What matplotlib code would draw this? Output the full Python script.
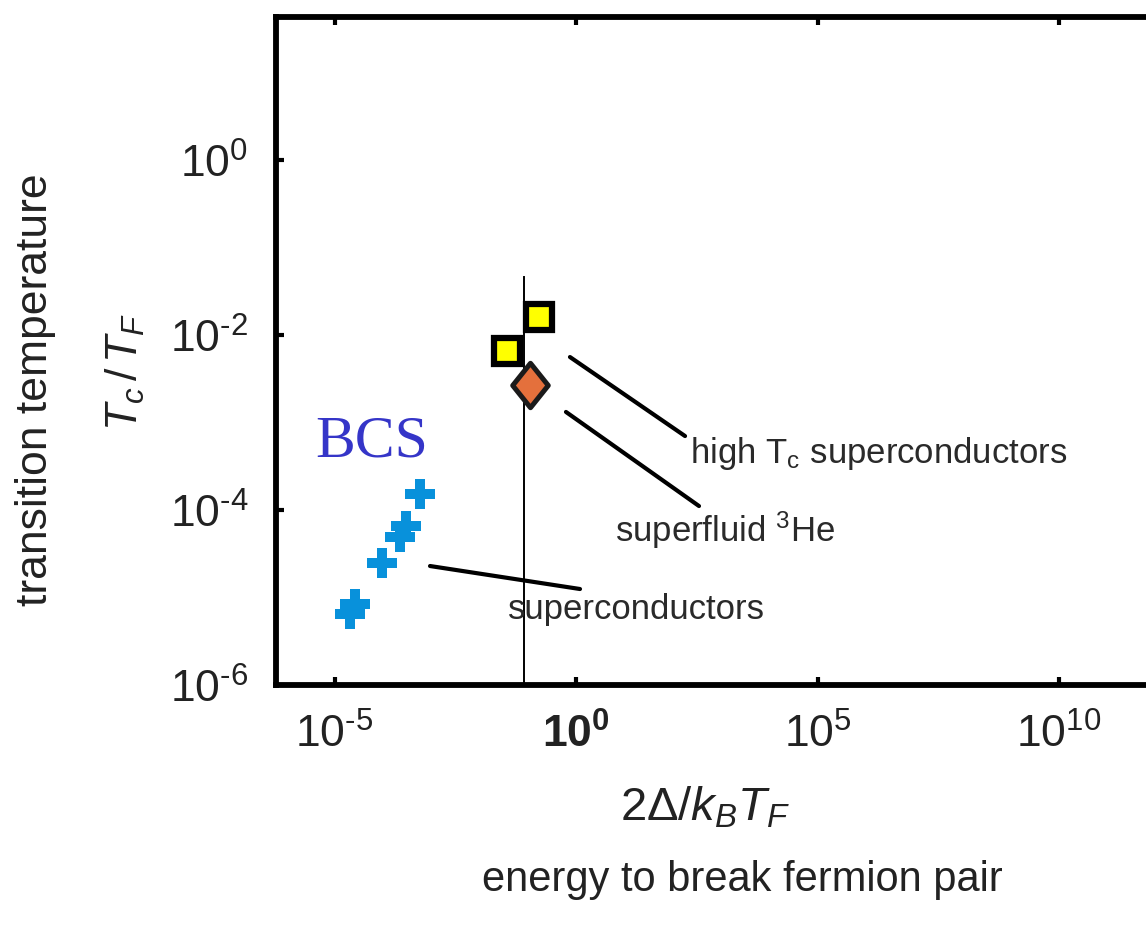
import matplotlib
matplotlib.use("Agg")
import matplotlib.pyplot as plt
from matplotlib.path import Path
import numpy as np

plt.rcParams['font.family'] = ['Liberation Sans', 'DejaVu Sans']
plt.rcParams['mathtext.fontset'] = 'custom'
plt.rcParams['mathtext.rm'] = 'Liberation Sans'
plt.rcParams['mathtext.it'] = 'Liberation Sans:italic'
plt.rcParams['mathtext.bf'] = 'Liberation Sans:bold'

# ---- data ----
bcs_x = [5.9e-4, 3.0e-4, 2.27e-4, 9.6e-5, 2.65e-5, 2.1e-5]
bcs_y = [1.52e-4, 6.6e-5, 4.9e-5, 2.5e-5, 8.4e-6, 6.5e-6]
hightc_x = [0.171, 0.0373]
hightc_y = [0.0161, 0.00656]
he3_x = [0.112]
he3_y = [0.00268]
vline_x = 0.0838
vline_top = 0.046

xticks = [1e-5, 1e0, 1e5, 1e10]
xticklabels = [r'$10^{\text{-}5}$', r'$\mathbf{10^0}$', r'$10^{5}$', r'$10^{10}$']
yticks = [1e-6, 1e-4, 1e-2, 1e0]
yticklabels = [r'$10^{\text{-}6}$', r'$10^{\text{-}4}$', r'$10^{\text{-}2}$', r'$10^{0}$']

# annotation leader lines (data coords)
line_hightc = ([0.75, 181], [5.6e-3, 7.0e-4])
line_he3 = ([0.62, 352], [1.32e-3, 1.11e-4])
line_sc = ([9.5e-4, 1.21], [2.29e-5, 1.25e-5])

W, H = 1146, 928
fig = plt.figure(figsize=(W / 100, H / 100), dpi=100)

# axes in pixels: left 276, right 1170 (beyond fig), top 18, bottom 686
left_px, right_px, top_px, bot_px = 276, 1170, 18, 686
ax = fig.add_axes([left_px / W, (H - bot_px) / H, (right_px - left_px) / W, (bot_px - top_px) / H])
ax.set_xscale('log')
ax.set_yscale('log')
# x: 10^0 at 576 px, 48.3 px / decade ; y: 10^0 at 161 px, 87.5 px / decade
ax.set_xlim(10 ** ((left_px - 576) / 48.3), 10 ** ((right_px - 576) / 48.3))
ax.set_ylim(10 ** ((161 - bot_px) / 87.5), 10 ** ((161 - top_px) / 87.5))

for s in ['left', 'bottom', 'top']:
    ax.spines[s].set_linewidth(4.2)
ax.spines['right'].set_visible(False)

ax.set_xticks(xticks)
ax.set_xticklabels(xticklabels)
ax.set_yticks(yticks)
ax.set_yticklabels(yticklabels)
ax.minorticks_off()
ax.tick_params(axis='both', which='major', direction='in', length=6, width=3,
               labelsize=32, labelcolor='#222222', pad=22)
ax.tick_params(axis='x', top=True, pad=20)
ax.tick_params(axis='y', right=False, pad=20)

# vertical line
ax.plot([vline_x, vline_x], [1e-6, vline_top], color='black', lw=1.4, zorder=2)

# markers
ax.plot(bcs_x, bcs_y, linestyle='none', marker='P', markersize=21,
        color='#0891DB', markeredgewidth=0, zorder=3)
ax.plot(hightc_x, hightc_y, linestyle='none', marker='s', markersize=19,
        markerfacecolor='#FFFF00', markeredgecolor='black', markeredgewidth=4.5, zorder=3)
diamond = Path([(0, 1), (0.8, 0), (0, -1), (-0.8, 0), (0, 1)],
               [Path.MOVETO, Path.LINETO, Path.LINETO, Path.LINETO, Path.CLOSEPOLY])
ax.plot(he3_x, he3_y, linestyle='none', marker=diamond, markersize=32,
        markerfacecolor='#E4703C', markeredgecolor='#1a1a1a', markeredgewidth=3.6, zorder=4)

# leader lines
for lx, ly in [line_hightc, line_he3, line_sc]:
    ax.plot(lx, ly, color='black', lw=3, solid_capstyle='round', zorder=2)

# annotation texts
tcol = '#2a2a2a'
ax.text(229, 4.6e-4, r'high T$_\mathrm{c}$ superconductors', fontsize=25, color=tcol,
        ha='left', va='center')
ax.text(6.4, 6.1e-5, r'superfluid $^3$He', fontsize=25, color=tcol, ha='left', va='center')
ax.text(0.039, 7.4e-6, 'superconductors', fontsize=25, color=tcol, ha='left', va='center')
ax.text(4.0e-6, 6.0e-4, 'BCS', fontsize=43, color='#3535C8', ha='left', va='center',
        family='Liberation Serif')

# axis labels as figure texts
fig.text(36 / W, 1 - 390 / H, 'transition temperature', rotation=90, fontsize=32,
         color='#222222', ha='center', va='center')
fig.text(125 / W, 1 - 372 / H, r'$T_c\,/\,T_F$', rotation=90, fontsize=32,
         color='#222222', ha='center', va='center')
fig.text(705 / W, 1 - 808 / H, r'$2\Delta/k_BT_F$', fontsize=34, color='#222222',
         ha='center', va='center')
fig.text(742 / W, 1 - 880 / H, 'energy to break fermion pair', fontsize=30,
         color='#222222', ha='center', va='center')

fig.savefig('out.png', dpi=100)
